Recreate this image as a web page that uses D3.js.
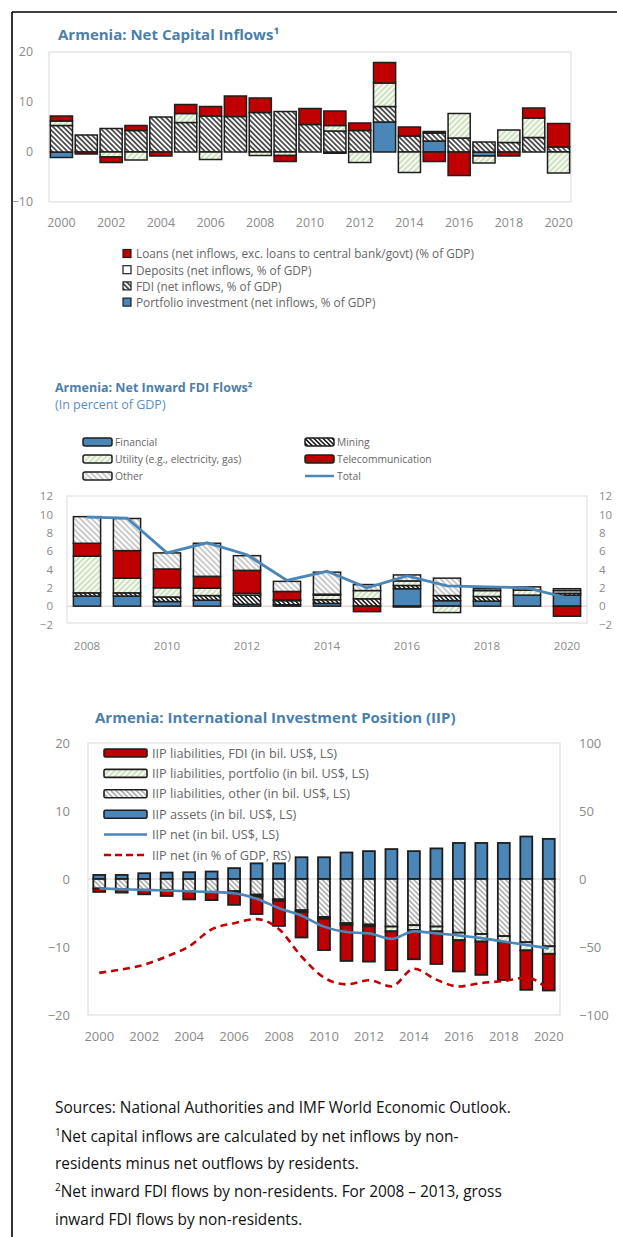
<!DOCTYPE html>
<html><head><meta charset="utf-8">
<script src="https://cdn.jsdelivr.net/npm/d3@7"></script>
<style>
html,body{margin:0;padding:0;background:#fff;}
svg{display:block;}
text{font-family:"Open Sans",sans-serif;}
</style></head>
<body>
<script>
// ---------- Chart 1: Net Capital Inflows (% of GDP) ----------
const years1 = [2000,2001,2002,2003,2004,2005,2006,2007,2008,2009,2010,2011,2012,2013,2014,2015,2016,2017,2018,2019,2020];
const portfolio1 = [-1.1,0,0,0,0,0,0,0,0,0,0,-0.25,0,6.0,0,2.2,0,-0.8,0,0,0];
const fdi1       = [5.3,3.4,4.7,4.3,7.0,5.9,7.2,7.1,7.9,8.1,5.5,4.2,4.3,3.1,3.2,1.6,2.8,2.0,1.9,2.9,1.0];
const deposits1  = [0.9,0,-1.0,-1.6,0,1.8,-1.5,0,-0.7,-0.7,0,1.1,-2.1,4.7,-4.1,0.3,4.9,-1.4,2.5,3.9,-4.2];
const loans1     = [1.0,-0.4,-1.1,1.0,-0.8,1.8,1.9,4.1,2.9,-1.2,3.2,2.9,1.5,4.1,1.8,-1.9,-4.7,0,-0.8,2.0,4.7];
const yTicks1 = [-10,0,10,20];
const xTicks1 = [2000,2002,2004,2006,2008,2010,2012,2014,2016,2018,2020];
const legend1 = ["Loans (net inflows, exc. loans to central bank/govt)  (% of GDP)","Deposits (net inflows, % of GDP)","FDI (net inflows, % of GDP)","Portfolio investment (net inflows, % of GDP)"];

// ---------- Chart 2: Net Inward FDI Flows (% of GDP) ----------
const years2 = [2008,2009,2010,2011,2012,2013,2014,2015,2016,2017,2018,2019,2020];
const financial2 = [1.1,1.1,0.5,0.65,0.2,0.15,0.3,0,1.9,0.6,0.55,1.2,1.2];
const mining2    = [0.35,0.35,0.5,0.5,1.0,0.45,0.4,0.8,0.35,0.55,0.5,0,0.2];
const utility2   = [4.0,1.6,1.0,0.8,0.2,0.1,0.5,0.9,0.5,-0.7,0.65,0.55,0.3];
const telecom2   = [1.4,3.0,2.05,1.3,2.5,0.9,0.1,-0.6,-0.1,0,0,0,-1.1];
const other2     = [2.9,3.5,1.75,3.6,1.6,1.1,2.4,0.65,0.65,1.9,0.2,0.35,0.2];
const total2     = [9.7,9.6,5.8,6.9,5.6,2.8,3.8,2.0,3.3,2.2,2.1,2.0,0.9];
const yTicks2 = [-2,0,2,4,6,8,10,12];
const xTicks2 = [2008,2010,2012,2014,2016,2018,2020];

// ---------- Chart 3: International Investment Position ----------
const years3 = [2000,2001,2002,2003,2004,2005,2006,2007,2008,2009,2010,2011,2012,2013,2014,2015,2016,2017,2018,2019,2020];
const assets3    = [0.6,0.6,0.85,0.95,1.0,1.1,1.6,2.3,2.3,3.2,3.2,3.9,4.1,4.4,4.1,4.5,5.3,5.3,5.3,6.25,5.9];
const other3     = [-1.4,-1.5,-1.6,-1.6,-1.8,-1.9,-1.8,-2.3,-3.0,-4.6,-5.6,-6.5,-6.7,-7.0,-6.8,-7.0,-7.9,-8.1,-8.4,-9.3,-9.9];
const portfolio3 = [0,0,0,0,0,0,-0.2,-0.25,-0.2,-0.25,-0.25,-0.25,-0.25,-0.7,-0.7,-0.7,-1.1,-1.1,-0.85,-1.2,-1.1];
const fdi3       = [-0.5,-0.5,-0.65,-0.9,-1.2,-1.2,-1.8,-2.6,-3.7,-3.75,-4.6,-5.3,-5.2,-5.7,-4.3,-4.8,-4.6,-4.9,-5.6,-5.8,-5.4];
const net3       = [-1.4,-1.5,-1.6,-1.7,-1.8,-1.9,-2.1,-2.9,-4.3,-5.4,-7.0,-7.8,-8.0,-8.8,-7.7,-8.0,-8.3,-8.7,-9.2,-9.7,-10.2];
const netGdp3    = [-69,-66.5,-63,-57,-49.5,-37,-32.5,-29.5,-37,-57,-72.5,-77.5,-74.5,-79,-66,-74,-79,-76.5,-75,-72.5,-81.5];
const yTicks3L = [-20,-10,0,10,20];
const yTicks3R = [-100,-50,0,50,100];
const xTicks3 = [2000,2002,2004,2006,2008,2010,2012,2014,2016,2018,2020];
const legend3 = ["IIP liabilities, FDI (in bil. US$, LS)","IIP liabilities, portfolio (in bil. US$, LS)","IIP liabilities, other (in bil. US$, LS)","IIP assets (in bil. US$, LS)","IIP net (in bil. US$, LS)","IIP net (in % of GDP, RS)"];

const footnotes = [
  ["Sources: National Authorities and IMF World Economic Outlook.", ""],
  ["Net capital inflows are calculated by net inflows by non-", "1"],
  ["residents minus net outflows by residents.", ""],
  ["Net inward FDI flows by non-residents. For 2008 \u2013 2013, gross", "2"],
  ["inward FDI flows by non-residents.", ""]
];

// ---------- styles ----------
const RED = "#c00000", BLUE = "#4a86b7", TITLE = "#4b7faa", AXIS = "#8a8a8a", LEG = "#666", FRAME = "#d9d9d9", EDGE = "#1e1e1e";

const W = 617, H = 1237;
const svg = d3.select("body").append("svg").attr("width", W).attr("height", H);
const defs = svg.append("defs");
function hatch(id, color, bg, sw, gap, angle){
  const p = defs.append("pattern").attr("id", id).attr("patternUnits","userSpaceOnUse")
    .attr("width", gap).attr("height", gap).attr("patternTransform", `rotate(${angle})`);
  p.append("rect").attr("width", gap).attr("height", gap).attr("fill", bg);
  p.append("line").attr("x1", gap/2).attr("y1", 0).attr("x2", gap/2).attr("y2", gap)
    .attr("stroke", color).attr("stroke-width", sw);
}
hatch("hDark", "#2a2a2a", "#ffffff", 1.5, 3.6, -45);
hatch("hGreen", "#9fc28a", "#f7fbf2", 0.9, 4, 45);
hatch("hGray", "#a0a0a0", "#ffffff", 1.1, 4, -45);
hatch("hMine", "#222", "#ffffff", 1.6, 3.2, -45);
hatch("hGray3", "#8e8e8e", "#ffffff", 1.2, 3.6, -45);

// page border
svg.append("line").attr("x1",12).attr("y1",12).attr("x2",W).attr("y2",12).attr("stroke","#000").attr("stroke-width",1.6);
svg.append("line").attr("x1",12).attr("y1",12).attr("x2",12).attr("y2",H).attr("stroke","#000").attr("stroke-width",1.6);

function styleAxis(g, size){
  g.select(".domain").remove();
  g.selectAll(".tick line").remove();
  g.selectAll("text").attr("fill", AXIS).style("font-size", size+"px").style("font-family","'Open Sans',sans-serif");
}

function stackBars(g, years, keys, dataCols, fills, x, y, sw){
  const rows = years.map((yr,i)=>{ const o={year:yr}; keys.forEach((k,j)=>o[k]=dataCols[j][i]); return o; });
  const series = d3.stack().keys(keys).offset(d3.stackOffsetDiverging)(rows);
  series.forEach((s,j)=>{
    g.append("g").selectAll("rect").data(s.filter(d=>Math.abs(d[1]-d[0])>1e-9)).join("rect")
      .attr("x", d=>x(d.data.year)).attr("width", x.bandwidth())
      .attr("y", d=>y(Math.max(d[0],d[1]))).attr("height", d=>Math.abs(y(d[0])-y(d[1])))
      .attr("fill", fills[j]).attr("stroke", EDGE).attr("stroke-width", sw);
  });
}

// ================= Chart 1 =================
{
  const L=49,R=571,T=52,B=202;
  const g = svg.append("g");
  g.append("text").attr("x",58).attr("y",40).attr("fill",TITLE).style("font-size","15px").style("font-weight","700").text("Armenia: Net Capital Inflows\u00b9");
  g.append("rect").attr("x",L).attr("y",T).attr("width",R-L).attr("height",B-T).attr("fill","none").attr("stroke",FRAME);
  const x = d3.scaleBand().domain(years1).range([L,R]).paddingInner(0.11).paddingOuter(0.055);
  const y = d3.scaleLinear().domain([-10,20]).range([B,T]);
  stackBars(g, years1, ["portfolio","fdi","deposits","loans"], [portfolio1,fdi1,deposits1,loans1],
    [BLUE,"url(#hDark)","url(#hGreen)",RED], x, y, 1.5);
  const ya = g.append("g").attr("transform",`translate(${L-13},0)`).call(d3.axisLeft(y).tickValues(yTicks1).tickSize(0));
  styleAxis(ya, 12.4);
  const xa = g.append("g").attr("transform",`translate(0,${B+13})`).call(d3.axisBottom(x).tickValues(xTicks1).tickSize(0));
  styleAxis(xa, 12.4);
  const lf = [RED,"#ffffff","url(#hDark)",BLUE];
  legend1.forEach((t,i)=>{
    const yy = 254 + i*16.2;
    g.append("rect").attr("x",123).attr("y",yy-4.5).attr("width",8).attr("height",8).attr("fill",lf[i]).attr("stroke",EDGE).attr("stroke-width",1.2);
    g.append("text").attr("x",136).attr("y",yy+4.3).attr("fill",LEG).style("font-size","11.8px").text(t);
  });
}

// ================= Chart 2 =================
{
  const L=67,R=587,T=496,B=623;
  const g = svg.append("g");
  g.append("text").attr("x",55).attr("y",392).attr("fill",TITLE).style("font-size","12.5px").style("font-weight","700").text("Armenia: Net Inward FDI Flows\u00b2");
  g.append("text").attr("x",55).attr("y",409).attr("fill","#5b8fbd").style("font-size","12.5px").text("(In percent of GDP)");
  g.append("rect").attr("x",L).attr("y",T).attr("width",R-L).attr("height",B-T).attr("fill","none").attr("stroke",FRAME);
  const x = d3.scaleBand().domain(years2).range([L,R]).paddingInner(0.32).paddingOuter(0.16);
  const y = d3.scaleLinear().domain([-2,12]).range([B+1.5,T]);
  g.append("line").attr("x1",L).attr("x2",R).attr("y1",y(0)).attr("y2",y(0)).attr("stroke","#e3c3c3");
  stackBars(g, years2, ["fin","mine","util","tel","oth"], [financial2,mining2,utility2,telecom2,other2],
    [BLUE,"url(#hMine)","url(#hGreen)",RED,"url(#hGray)"], x, y, 1.5);
  const line = d3.line().x((d,i)=>x(years2[i])+x.bandwidth()/2).y(d=>y(d));
  g.append("path").datum(total2).attr("d",line).attr("fill","none").attr("stroke",BLUE).attr("stroke-width",2.8);
  const ya = g.append("g").attr("transform",`translate(${L-11},0)`).call(d3.axisLeft(y).tickValues(yTicks2).tickSize(0));
  styleAxis(ya, 11.5);
  const yr = g.append("g").attr("transform",`translate(${R+9},0)`).call(d3.axisRight(y).tickValues(yTicks2).tickSize(0));
  styleAxis(yr, 11.5);
  const xa = g.append("g").attr("transform",`translate(0,${B+16})`).call(d3.axisBottom(x).tickValues(xTicks2).tickSize(0));
  styleAxis(xa, 11.5);
  const leg = [["Financial",BLUE,0,0],["Utility (e.g., electricity, gas)","url(#hGreen)",0,1],["Other","url(#hGray)",0,2],
               ["Mining","url(#hMine)",1,0],["Telecommunication",RED,1,1],["Total",null,1,2]];
  leg.forEach(([t,f,c,r])=>{
    const x0 = c? 305 : 83, yy = 442 + r*17;
    if (f) g.append("rect").attr("x",x0).attr("y",yy-4).attr("width",29).attr("height",8).attr("rx",2).attr("fill",f).attr("stroke",EDGE).attr("stroke-width",1.5);
    else g.append("line").attr("x1",x0).attr("x2",x0+29).attr("y1",yy).attr("y2",yy).attr("stroke",BLUE).attr("stroke-width",2.5);
    g.append("text").attr("x",x0+32).attr("y",yy+4).attr("fill",LEG).style("font-size","10.3px").text(t);
  });
}

// ================= Chart 3 =================
{
  const L=88,R=560,T=743,B=1015;
  const g = svg.append("g");
  g.append("text").attr("x",95).attr("y",723).attr("fill",TITLE).style("font-size","15px").style("font-weight","700").text("Armenia: International Investment Position (IIP)");
  g.append("rect").attr("x",L).attr("y",T).attr("width",R-L).attr("height",B-T).attr("fill","none").attr("stroke",FRAME);
  const x = d3.scaleBand().domain(years3).range([L,R]).paddingInner(0.47).paddingOuter(0.235);
  const y = d3.scaleLinear().domain([-20,20]).range([B,T]);
  const yR = d3.scaleLinear().domain([-100,100]).range([B,T]);
  g.append("line").attr("x1",L).attr("x2",R).attr("y1",y(0)).attr("y2",y(0)).attr("stroke","#d8d8d8");
  stackBars(g, years3, ["assets","other","port","fdi"], [assets3,other3,portfolio3,fdi3],
    [BLUE,"url(#hGray3)","url(#hGreen)",RED], x, y, 1.8);
  const cx = i=>x(years3[i])+x.bandwidth()/2;
  g.append("path").datum(net3).attr("d",d3.line().x((d,i)=>cx(i)).y(d=>y(d)).curve(d3.curveMonotoneX))
    .attr("fill","none").attr("stroke",BLUE).attr("stroke-width",2.6);
  g.append("path").datum(netGdp3).attr("d",d3.line().x((d,i)=>cx(i)).y(d=>yR(d)).curve(d3.curveMonotoneX))
    .attr("fill","none").attr("stroke",RED).attr("stroke-width",2.6).attr("stroke-dasharray","7,5");
  const ya = g.append("g").attr("transform",`translate(${L-15},0)`).call(d3.axisLeft(y).tickValues(yTicks3L).tickSize(0));
  styleAxis(ya, 13);
  const yr = g.append("g").attr("transform",`translate(${R+16},0)`).call(d3.axisRight(yR).tickValues(yTicks3R).tickSize(0));
  styleAxis(yr, 13);
  const xa = g.append("g").attr("transform",`translate(0,${B+14})`).call(d3.axisBottom(x).tickValues(xTicks3).tickSize(0));
  styleAxis(xa, 13);
  const lf = [RED,"url(#hGreen)","url(#hGray3)",BLUE,"line","dash"];
  legend3.forEach((t,i)=>{
    const yy = 753 + i*20.4, x0 = 104;
    if (lf[i]==="line") g.append("line").attr("x1",x0).attr("x2",x0+43).attr("y1",yy).attr("y2",yy).attr("stroke",BLUE).attr("stroke-width",2.5);
    else if (lf[i]==="dash") g.append("line").attr("x1",x0).attr("x2",x0+43).attr("y1",yy).attr("y2",yy).attr("stroke",RED).attr("stroke-width",2.5).attr("stroke-dasharray","7,4");
    else g.append("rect").attr("x",x0).attr("y",yy-4).attr("width",43).attr("height",8).attr("rx",1.5).attr("fill",lf[i]).attr("stroke",EDGE).attr("stroke-width",1.6);
    g.append("text").attr("x",x0+48).attr("y",yy+4.5).attr("fill",LEG).style("font-size","12.7px").text(t);
  });
}

// ================= Footnotes =================
{
  const g = svg.append("g");
  const ys = [1113,1142,1169,1197,1225];
  footnotes.forEach(([t,sup],i)=>{
    const tx = g.append("text").attr("x",55).attr("y",ys[i]).attr("fill","#111").style("font-size","15.4px");
    if (sup) tx.append("tspan").style("font-size","10px").attr("dy",-6).text(sup);
    tx.append("tspan").attr("dy", sup?6:0).text(t);
  });
}
</script>
</body></html>
